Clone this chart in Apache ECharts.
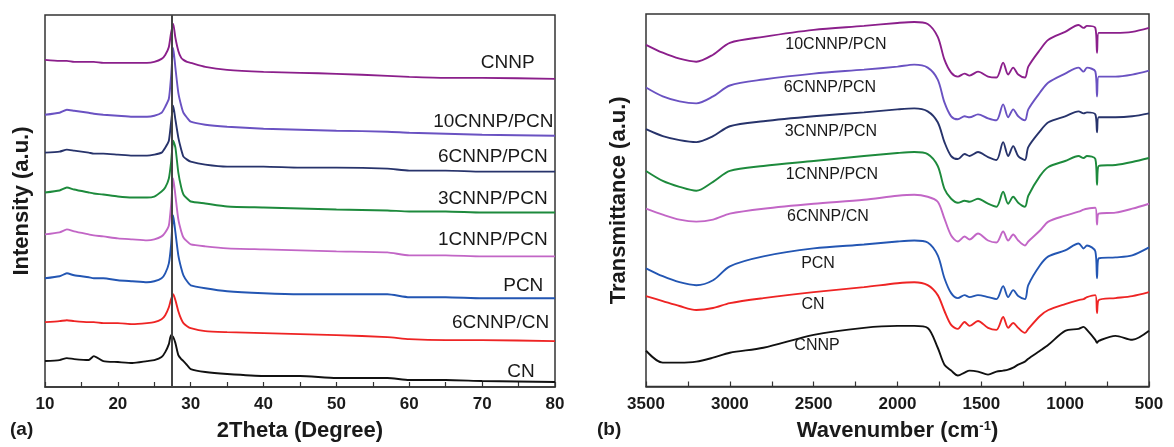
<!DOCTYPE html>
<html>
<head>
<meta charset="utf-8">
<script src="https://cdn.jsdelivr.net/npm/echarts@6/dist/echarts.min.js"></script>
<style>
  html, body { margin: 0; padding: 0; background: #fff; }
  #main { width: 1174px; height: 447px; }
</style>
</head>
<body>
<div id="main"></div>
<script>
// (a) XRD, 2θ in degree; intensities are offset-stacked (a.u.)
const twoTheta = [10, 12, 13, 14, 16, 16.7, 18, 20, 22, 24, 25, 26, 26.5, 27, 27.3, 27.6, 27.9, 28.3, 28.7, 29, 29.5, 30, 32, 35, 40, 45, 50, 57, 60, 65, 70, 80]
const xrdCN = [26, 27, 29, 28, 27, 31, 26, 25, 24, 26, 27, 30, 35, 43, 52, 50, 44, 32, 28, 26, 22, 18, 15, 13, 11, 11, 9, 9, 7, 7, 6, 5]
const xrd6CNNP_CN = [65, 66, 67, 66, 65, 65, 64, 64, 63, 64, 65, 68, 72, 80, 88, 93, 87, 76, 68, 64, 61, 59, 56, 55, 54, 53, 52, 50, 48, 47, 47, 46]
const xrdPCN = [109, 111, 114, 112, 110, 109, 109, 107, 106, 105, 106, 109, 114, 124, 142, 172, 155, 132, 119, 112, 106, 102, 99, 96, 94, 93, 93, 93, 90, 90, 89, 89]
const xrd1CNNP = [153, 155, 158, 156, 153, 152, 151, 149, 148, 147, 148, 151, 155, 162, 182, 209, 192, 168, 156, 150, 146, 143, 141, 139, 138, 137, 136, 135, 132, 132, 131, 131]
const xrd3CNNP = [195, 197, 200, 198, 195, 194, 193, 191, 190, 190, 191, 196, 200, 209, 225, 247, 240, 215, 200, 193, 189, 186, 184, 181, 180, 179, 178, 177, 176, 176, 175, 175]
const xrd6CNNP = [235, 236, 238, 237, 235, 234, 234, 233, 232, 232, 233, 235, 240, 247, 265, 282, 268, 250, 238, 231, 228, 226, 223, 221, 221, 220, 220, 219, 217, 217, 216, 216]
const xrd10CNNP = [273, 275, 278, 277, 275, 274, 273, 272, 271, 271, 272, 275, 281, 289, 311, 340, 320, 295, 282, 275, 270, 266, 263, 261, 259, 258, 257, 256, 255, 254, 253, 252]
const xrdCNNP = [328, 327, 327, 326, 326, 326, 325, 325, 325, 325, 326, 329, 333, 341, 355, 364, 350, 337, 330, 328, 326, 325, 321, 318, 316, 315, 314, 312, 311, 310, 310, 309]
const peakLine = 27.4

// (b) FTIR, wavenumber in cm-1; transmittance offset-stacked (a.u.)
const wavenumber = [3500, 3400, 3300, 3200, 3100, 3000, 2800, 2500, 2200, 2000, 1900, 1820, 1760, 1720, 1680, 1640, 1600, 1570, 1520, 1460, 1410, 1370, 1340, 1310, 1280, 1240, 1220, 1150, 1100, 1000, 920, 890, 870, 820, 810, 800, 700, 600, 500]
const ir10CNNP = [344, 336, 330, 327, 334, 346, 352, 359, 363, 366, 367, 365, 352, 329, 316, 312, 315, 313, 317, 312, 311, 326, 314, 321, 314, 311, 322, 339, 349, 357, 364, 361, 363, 361, 336, 356, 356, 357, 361]
const ir6CNNP = [301, 292, 287, 285, 292, 303, 309, 315, 319, 322, 324, 321, 309, 286, 272, 269, 272, 271, 274, 270, 268, 284, 271, 279, 272, 268, 279, 296, 306, 315, 321, 317, 321, 317, 292, 312, 312, 314, 318]
const ir3CNNP = [259, 252, 248, 246, 252, 262, 267, 272, 276, 279, 280, 277, 266, 246, 232, 229, 234, 232, 236, 231, 228, 246, 232, 242, 232, 228, 241, 257, 266, 272, 277, 275, 276, 274, 256, 271, 271, 272, 275]
const ir1CNNP = [217, 207, 201, 197, 206, 217, 222, 227, 232, 235, 236, 234, 222, 199, 189, 185, 187, 186, 189, 184, 181, 196, 184, 191, 185, 181, 192, 212, 221, 227, 232, 230, 232, 229, 203, 222, 223, 226, 230]
const ir6CNNP_CN = [179, 173, 168, 166, 168, 174, 179, 184, 188, 192, 193, 191, 186, 169, 152, 146, 151, 148, 154, 147, 145, 156, 147, 153, 147, 142, 146, 157, 166, 172, 176, 178, 179, 180, 163, 174, 175, 179, 184]
const irPCN = [119, 111, 105, 102, 107, 121, 131, 139, 143, 146, 147, 145, 132, 109, 94, 89, 92, 90, 92, 90, 88, 101, 90, 97, 91, 88, 102, 122, 131, 137, 144, 139, 142, 136, 109, 129, 130, 132, 140]
const irCN = [91, 86, 81, 77, 79, 84, 89, 95, 100, 104, 105, 102, 92, 76, 62, 58, 65, 61, 66, 59, 57, 70, 59, 64, 59, 54, 58, 71, 77, 83, 87, 88, 90, 92, 74, 87, 89, 91, 95]
const irCNNP = [36, 24, 24, 25, 29, 34, 39, 52, 59, 61, 61, 59, 39, 22, 16, 11, 14, 16, 15, 12, 15, 16, 17, 19, 22, 25, 28, 36, 42, 56, 58, 60, 57, 47, 44, 46, 51, 47, 56]

const FONT = '"Liberation Sans", Arial, sans-serif'

const chart = echarts.init(document.getElementById('main'))

const zip = (xs, ys) => xs.map((x, i) => [x, ys[i]])

// 曲线 + 文字标签（标签用 markPoint 放在数据坐标里）
const curve = (idx, xs, ys, color, text, at, align) => ({
  type: 'line',
  xAxisIndex: idx,
  yAxisIndex: idx,
  data: zip(xs, ys),
  symbol: 'none',
  smooth: idx === 0 ? 0.2 : 0.3,
  lineStyle: { color, width: 1.9 },
  z: 3,
  markPoint: {
    symbol: 'circle',
    symbolSize: 0,
    silent: true,
    data: [{ coord: at }],
    label: {
      show: true,
      formatter: text,
      position: align === 'right' ? 'left' : 'inside',
      distance: 0,
      color: '#1a1a1a',
      fontFamily: FONT,
      fontSize: idx === 0 ? 19 : 16,
    },
  },
})

const tickAxis = (idx, min, max, interval, every, name, inverse) => ({
  type: 'value',
  gridIndex: idx,
  min, max, interval, inverse,
  name,
  nameLocation: 'middle',
  nameGap: 33,
  nameTextStyle: {
    fontFamily: FONT, fontWeight: 'bold', fontSize: 22, color: '#1a1a1a',
    rich: {
      t: { fontFamily: FONT, fontWeight: 'bold', fontSize: 22, color: '#1a1a1a' },
      s: { fontFamily: FONT, fontWeight: 'bold', fontSize: 13, color: '#1a1a1a', verticalAlign: 'top', padding: [0, 0, 10, 0] },
    },
  },
  axisLine: { show: true, onZero: false, lineStyle: { color: '#333', width: 1.5 } },
  axisTick: { show: true, inside: true, length: 5, lineStyle: { color: '#333', width: 1.2 } },
  axisLabel: {
    fontFamily: FONT, fontWeight: 'bold', fontSize: 17, color: '#1a1a1a', margin: 9,
    formatter: v => (v % every === 0 ? String(v) : ''),
  },
  splitLine: { show: false },
})

const hiddenY = (idx, max, name, gap) => ({
  type: 'value',
  gridIndex: idx,
  min: 0,
  max,
  name,
  nameLocation: 'middle',
  nameGap: gap,
  nameTextStyle: { fontFamily: FONT, fontWeight: 'bold', fontSize: 22, color: '#1a1a1a' },
  axisLine: { show: false },
  axisTick: { show: false },
  axisLabel: { show: false },
  splitLine: { show: false },
})

const option = {
  animation: false,
  backgroundColor: '#fff',
  grid: [
    { left: 45, right: 619, top: 15, bottom: 59, show: true, borderColor: '#333', borderWidth: 1.5 },
    { left: 646, right: 25, top: 14, bottom: 58, show: true, borderColor: '#333', borderWidth: 1.5 },
  ],
  xAxis: [
    tickAxis(0, 10, 80, 5, 10, '2Theta (Degree)', false),
    tickAxis(1, 500, 3500, 250, 500, '{t|Wavenumber (cm}{s|-1}{t|)}', true),
  ],
  yAxis: [
    hiddenY(0, 373, 'Intensity (a.u.)', 12),
    hiddenY(1, 375, 'Transmittance (a.u.)', 16),
  ],
  graphic: [
    { type: 'text', left: 10, top: 420, style: { text: '(a)', font: 'bold 19px ' + FONT, fill: '#1a1a1a' } },
    { type: 'text', left: 597, top: 420, style: { text: '(b)', font: 'bold 19px ' + FONT, fill: '#1a1a1a' } },
  ],
  series: [
    Object.assign(curve(0, twoTheta, xrdCN, '#111111', 'CN', [77.2, 15], 'right'), {
      markLine: {
        silent: true,
        symbol: 'none',
        label: { show: false },
        lineStyle: { color: '#444', width: 2, type: 'solid' },
        data: [{ xAxis: peakLine }],
      },
    }),
    curve(0, twoTheta, xrd6CNNP_CN, '#ee2424', '6CNNP/CN', [79.2, 64], 'right'),
    curve(0, twoTheta, xrdPCN, '#2356b3', 'PCN', [78.4, 102], 'right'),
    curve(0, twoTheta, xrd1CNNP, '#c266c6', '1CNNP/PCN', [79.0, 148], 'right'),
    curve(0, twoTheta, xrd3CNNP, '#1d8a3c', '3CNNP/PCN', [79.0, 189], 'right'),
    curve(0, twoTheta, xrd6CNNP, '#27336b', '6CNNP/PCN', [79.0, 231], 'right'),
    curve(0, twoTheta, xrd10CNNP, '#6a52c2', '10CNNP/PCN', [79.8, 266], 'right'),
    curve(0, twoTheta, xrdCNNP, '#8b1f8b', 'CNNP', [77.2, 325], 'right'),

    curve(1, wavenumber, ir10CNNP, '#8b1f8b', '10CNNP/PCN', [2367, 344], 'center'),
    curve(1, wavenumber, ir6CNNP, '#6a52c2', '6CNNP/PCN', [2403, 301], 'center'),
    curve(1, wavenumber, ir3CNNP, '#27336b', '3CNNP/PCN', [2397, 257], 'center'),
    curve(1, wavenumber, ir1CNNP, '#1d8a3c', '1CNNP/PCN', [2391, 213], 'center'),
    curve(1, wavenumber, ir6CNNP_CN, '#c266c6', '6CNNP/CN', [2415, 171], 'center'),
    curve(1, wavenumber, irPCN, '#2356b3', 'PCN', [2474, 124], 'center'),
    curve(1, wavenumber, irCN, '#ee2424', 'CN', [2504, 82], 'center'),
    curve(1, wavenumber, irCNNP, '#111111', 'CNNP', [2480, 41], 'center'),
  ],
}

chart.setOption(option)
window.addEventListener('resize', () => chart.resize())
</script>
</body>
</html>
